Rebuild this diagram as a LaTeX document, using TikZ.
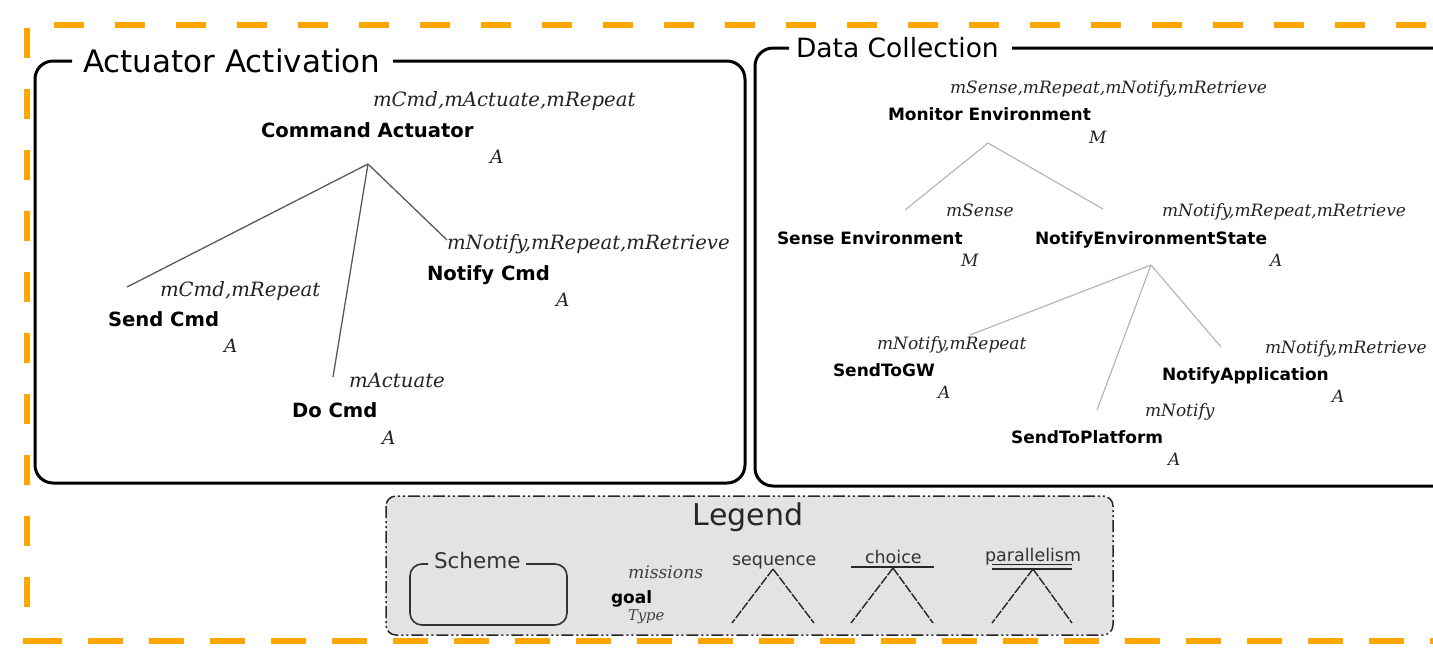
\documentclass[tikz,border=0pt]{standalone}
\usepackage{fontspec}
\setmainfont{DejaVu Sans}
\newfontfamily\misfont{DejaVu Serif}
\definecolor{frameorange}{RGB}{255,165,0}
\definecolor{legendgray}{RGB}{227,227,227}
\definecolor{inkgray}{RGB}{35,35,35}
\begin{document}
\begin{tikzpicture}[x=1pt,y=-1pt,
  every node/.style={inner sep=0pt, outer sep=0pt},
  schemebox/.style={line width=3pt, rounded corners=18pt},
  schemetitle/.style={anchor=base west, font=\fontsize{31}{36}\selectfont},
  goalL/.style={anchor=base west, font=\bfseries\fontsize{19.6}{22}\selectfont},
  misL/.style={anchor=base west, font=\misfont\itshape\fontsize{19.7}{22}\selectfont, text=inkgray},
  typeL/.style={anchor=base west, font=\misfont\itshape\fontsize{18.5}{22}\selectfont, text=inkgray},
  goalR/.style={anchor=base west, font=\bfseries\fontsize{17}{20}\selectfont},
  misR/.style={anchor=base west, font=\misfont\itshape\fontsize{17}{20}\selectfont, text=inkgray},
  typeR/.style={anchor=base west, font=\misfont\itshape\fontsize{17}{20}\selectfont, text=inkgray},
  edgeL/.style={draw=black!65, line width=1.3pt},
  edgeR/.style={draw=black!30, line width=1.1pt},
  orangedash/.style={draw=frameorange, line width=6pt},
  legleg/.style={draw=black!85, line width=1.4pt, dash pattern=on 9pt off 1.5pt},
  legtext/.style={anchor=base west, text=black!80, font=\fontsize{17.5}{20}\selectfont}
]
\useasboundingbox (0,0) rectangle (1433,649);

% ---------- outer orange frame ----------
\draw[orangedash, dash pattern=on 30pt off 31pt] (54,25) -- (1445,25);
\draw[orangedash, dash pattern=on 30pt off 31pt] (27,28) -- (27,610);
\draw[orangedash] (23,641) -- (62,641);
\draw[orangedash, dash pattern=on 35pt off 26pt] (88,641) -- (1445,641);

% ---------- Actuator Activation scheme ----------
\node[schemetitle] (acttitle) at (83,72) {Actuator Activation};
\draw[schemebox] (72,61) -- (35,61) -- (35,483) -- (745,483) -- (745,61) -- (393,61);

\node[misL]  (cmdact-m) at (373,106) {mCmd,mActuate,mRepeat};
\node[goalL] (cmdact)   at (261,137) {Command Actuator};
\node[typeL] (cmdact-t) at (490,163) {A};
\coordinate (cmdact-j) at (368,164);

\node[misL]  (send-m) at (160,296) {mCmd,mRepeat};
\node[goalL] (send)   at (108,326) {Send Cmd};
\node[typeL] (send-t) at (224,352) {A};
\coordinate (send-e) at (127,287);

\node[misL]  (do-m) at (349,387) {mActuate};
\node[goalL] (do)   at (292,417) {Do Cmd};
\node[typeL] (do-t) at (382,444) {A};
\coordinate (do-e) at (333,377);

\node[misL]  (notcmd-m) at (447,249) {mNotify,mRepeat,mRetrieve};
\node[goalL] (notcmd)   at (427,280) {Notify Cmd};
\node[typeL] (notcmd-t) at (556,306) {A};
\coordinate (notcmd-e) at (447,240);

\draw[edgeL] (cmdact-j) -- (send-e);
\draw[edgeL] (cmdact-j) -- (do-e);
\draw[edgeL] (cmdact-j) -- (notcmd-e);

% ---------- Data Collection scheme ----------
\node[schemetitle, font=\fontsize{26.5}{30}\selectfont] (datatitle) at (796,57) {Data Collection};
\draw[schemebox] (789,48) -- (755,48) -- (755,486) -- (1470,486) -- (1470,48) -- (1012,48);

\node[misR]  (mon-m) at (950,93) {mSense,mRepeat,mNotify,mRetrieve};
\node[goalR] (mon)   at (888,120) {Monitor Environment};
\node[typeR] (mon-t) at (1089,143) {M};
\coordinate (mon-j) at (988,143);

\node[misR]  (sense-m) at (946,216) {mSense};
\node[goalR] (sense)   at (777,244) {Sense Environment};
\node[typeR] (sense-t) at (961,266) {M};
\coordinate (sense-e) at (905,210);

\node[misR]  (nes-m) at (1162,216) {mNotify,mRepeat,mRetrieve};
\node[goalR] (nes)   at (1035,244) {NotifyEnvironmentState};
\node[typeR] (nes-t) at (1270,266) {A};
\coordinate (nes-e) at (1103,209);
\coordinate (nes-j) at (1151,265);

\node[misR]  (gw-m) at (877,349) {mNotify,mRepeat};
\node[goalR] (gw)   at (833,376) {SendToGW};
\node[typeR] (gw-t) at (938,398) {A};
\coordinate (gw-e) at (970,335);

\node[misR]  (plat-m) at (1145,416) {mNotify};
\node[goalR] (plat)   at (1011,443) {SendToPlatform};
\node[typeR] (plat-t) at (1168,465) {A};
\coordinate (plat-e) at (1097,410);

\node[misR]  (app-m) at (1265,353) {mNotify,mRetrieve};
\node[goalR] (app)   at (1162,380) {NotifyApplication};
\node[typeR] (app-t) at (1332,402) {A};
\coordinate (app-e) at (1221,347);

\draw[edgeR] (mon-j) -- (sense-e);
\draw[edgeR] (mon-j) -- (nes-e);
\draw[edgeR] (nes-j) -- (gw-e);
\draw[edgeR] (nes-j) -- (plat-e);
\draw[edgeR] (nes-j) -- (app-e);

% ---------- Legend ----------
\draw[fill=legendgray, draw=black!85, line width=1.5pt, rounded corners=10pt,
      dash pattern=on 12pt off 3pt on 2pt off 3pt on 2pt off 3pt]
  (386,496) rectangle (1113,635);
\node[anchor=base, text=black!85, font=\fontsize{30}{34}\selectfont] (legtitle) at (748,525) {Legend};

% scheme symbol
\node[legtext, font=\fontsize{21.5}{24}\selectfont] (legscheme) at (434,568) {Scheme};
\draw[draw=black!80, line width=1.6pt, rounded corners=12pt]
  (428,564) -- (410,564) -- (410,625) -- (567,625) -- (567,564) -- (526,564);

% goal symbol
\node[anchor=base west, text=black!75, font=\misfont\itshape\fontsize{17.2}{20}\selectfont] (legmis) at (628,578) {missions};
\node[anchor=base west, font=\bfseries\fontsize{17}{20}\selectfont] (leggoal) at (611,603) {goal};
\node[anchor=base west, text=black!75, font=\misfont\itshape\fontsize{14.8}{18}\selectfont] (legtype) at (628,620) {Type};

% sequence
\node[legtext] (legseq) at (732,565) {sequence};
\coordinate (seq-a) at (773,569);
\coordinate (seq-l) at (732,623);
\coordinate (seq-r) at (814,623);
\draw[legleg] (seq-a) -- (seq-l);
\draw[legleg] (seq-a) -- (seq-r);

% choice
\node[legtext] (legcho) at (865,563) {choice};
\draw[black!85, line width=1.5pt] (851,567) -- (934,567);
\coordinate (cho-a) at (893,568);
\coordinate (cho-l) at (851,623);
\coordinate (cho-r) at (933,623);
\draw[legleg] (cho-a) -- (cho-l);
\draw[legleg] (cho-a) -- (cho-r);

% parallelism
\node[legtext] (legpar) at (985,561) {parallelism};
\draw[black!85, line width=1.5pt] (992,564.5) -- (1072,564.5);
\draw[black!85, line width=1.5pt] (992,569) -- (1072,569);
\coordinate (par-a) at (1033,569);
\coordinate (par-l) at (992,623);
\coordinate (par-r) at (1072,623);
\draw[legleg] (par-a) -- (par-l);
\draw[legleg] (par-a) -- (par-r);
\end{tikzpicture}
\end{document}
